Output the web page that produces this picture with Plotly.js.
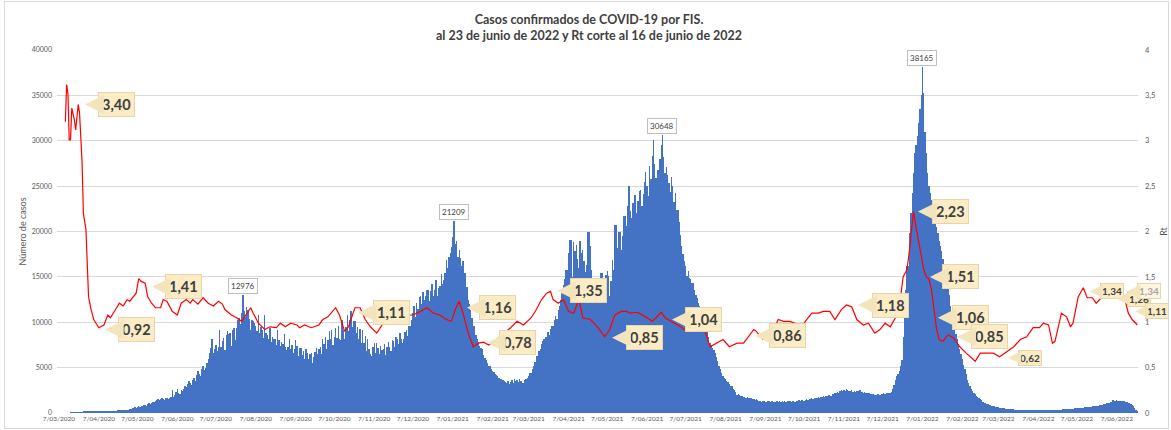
<!DOCTYPE html>
<html><head><meta charset="utf-8">
<script src="https://cdn.plot.ly/plotly-3.0.1.min.js"></script>
<style>html,body{margin:0;padding:0;background:#fff;}#wrap{position:relative;width:1171px;height:430px;}#frame{position:absolute;left:4px;top:1px;width:1163px;height:426px;border:1px solid #d9d9d9;pointer-events:none;}</style>
</head><body><div id="wrap"><div id="chart" style="width:1171px;height:430px;"></div><div id="frame"></div></div>
<script>
// Daily confirmed cases by FIS, first day 2020-03-06
const startDate = '2020-03-06';
const cases = [
3,5,8,10,14,18,20,
30,35,45,60,70,80,95,
110,120,140,130,150,160,170,
180,190,170,200,210,190,200,
210,220,200,230,220,210,230,
220,230,210,240,250,230,240,
250,230,260,270,250,280,290,
300,280,310,330,350,320,380,
420,470,520,600,660,580,640,
720,680,800,780,850,900,820,
950,1050,1000,1150,1250,1200,1350,
1450,1550,1400,1500,1600,1550,1450,
1600,1700,1500,1650,1750,2500,1800,
2000,2300,2600,2200,2100,2500,2400,
2700,3000,2900,3200,3500,3300,3100,
3600,3850,3500,4200,4600,4300,4100,
4800,5200,4700,5000,5500,5900,6600,
7200,8100,6600,7000,7500,6800,7300,
9150,7300,7900,8300,6900,8600,9000,
8700,8800,7400,9200,9400,8000,9400,
10200,10500,9800,11000,12976,11200,10600,
11700,11400,10400,9200,10300,10100,9900,
9600,9000,10800,8800,9500,9200,8300,
10800,8800,8600,8200,9400,7800,8400,
8200,8100,7500,9100,8000,7400,7800,
7600,8700,7300,6900,7300,8200,7100,
7500,6600,7000,8000,7400,6300,7200,
7200,6400,6800,5900,7000,6600,6000,
6500,6600,5500,6200,6700,7200,6500,
7000,7300,6500,8100,7600,8400,7000,
8000,9000,8200,9150,7500,8400,9400,
8300,9600,8100,8000,10300,9200,8200,
9500,10800,9000,10200,11200,9500,10100,
10100,8800,9500,8200,9300,7700,9200,
7700,8500,6800,8100,7000,6500,6240,
7300,7700,6600,7700,7200,6500,7400,
6900,7000,7600,6400,7300,7800,7300,
6800,8000,7900,7300,8400,8200,7600,
8800,8100,7700,8100,8900,9200,8500,
9600,9550,10300,11000,11800,10600,12100,
11500,12800,12850,12000,13300,12400,12900,
13500,13600,12300,13400,14200,12900,13500,
14700,12900,13800,14000,15300,14200,14700,
15400,16900,16000,17200,17600,18300,19400,
21209,18600,19000,17200,18000,17100,16200,
16800,15400,15400,13900,12500,12000,11300,
10500,9550,9550,8600,8200,7800,7400,
7200,7000,6400,6100,5800,5500,5150,
5150,4900,4600,4500,4300,4200,4050,
3900,3800,3700,3600,3500,3400,3300,
3500,3200,3400,3600,3300,3700,3500,
3650,3400,3800,3500,3300,3300,3600,
3700,3900,4100,4400,4400,4800,5200,
5600,6250,6250,6800,7000,7600,7900,
8100,8400,8400,8900,8600,9300,9550,
9550,10200,10700,10400,11400,11800,12400,
13400,14100,14800,15800,15800,17600,19100,
19100,15000,18800,17900,18500,17000,16000,
18900,17600,18000,16800,15500,16300,19950,
19900,18400,15800,14600,13800,12850,12500,
14200,14800,15450,15450,14200,13000,15200,
15700,15050,12900,14500,16900,15800,20750,
20750,18200,20000,20000,18000,19500,21700,
21700,20600,22800,24970,22300,21500,23100,
24000,24000,22000,23400,24500,24600,22800,
24100,25500,26600,25000,23900,27200,25800,
28300,30050,27400,25900,26800,26800,28000,
29500,30648,28200,26500,27100,26250,25400,
24300,26000,25000,23300,24200,22400,22400,
21000,19650,18400,17500,16800,16200,15050,
15600,14900,14800,14350,14350,13600,13000,
12700,12150,11800,11300,10900,10400,9950,
9500,9000,8400,7750,7500,7200,6900,
6650,6200,5700,5200,4800,4400,4050,
3900,3700,3500,3400,3200,3000,2940,
2700,2500,2300,2020,2100,2000,1900,
1850,1800,1750,1700,1750,1650,1650,
1600,1550,1500,1450,1500,1400,1350,
1300,1250,1280,1300,1200,1250,1300,
1280,1200,1300,1250,1180,1220,1300,
1250,1300,1200,1280,1250,1300,1220,
1280,1300,1280,1200,1350,1300,1250,
1300,1350,1400,1300,1380,1400,1350,
1450,1500,1450,1550,1500,1600,1550,
1650,1600,1700,1750,1650,1800,1750,
1840,1800,1900,1850,1950,2000,1900,
2100,2050,2200,2150,2300,2250,2400,
2500,2450,2570,2400,2600,2500,2450,
2400,2500,2350,2450,2300,2390,2400,
2500,2570,2300,2200,2350,2250,2200,
2150,2200,2100,2050,2100,2000,2020,
2050,2100,2000,2050,2100,2150,2100,
2150,2200,2250,2200,2300,2600,3100,
3680,4100,4300,4600,5200,5880,8400,
11400,13500,16200,16200,19800,22000,24250,
26500,28650,29500,30500,32000,33450,35000,
38165,35300,31000,28650,26500,25000,24200,
23500,22700,22000,21300,20500,19800,19000,
18400,17800,17000,16400,15800,15000,14350,
13000,11800,10300,9700,9200,8700,8100,
7600,7000,6500,5900,5300,4800,4300,
3680,3300,3000,2700,2450,2200,2050,
1900,1750,1600,1500,1400,1250,1100,
1050,1000,950,900,850,800,750,
720,680,650,620,600,550,540,
520,500,480,460,450,430,420,
400,390,380,370,360,350,340,
330,320,320,310,300,300,290,
300,290,280,300,290,280,300,
290,300,310,290,300,320,310,
300,320,330,310,340,330,350,
360,370,370,380,390,400,410,
420,430,450,440,470,480,500,
510,520,550,530,560,580,600,
620,640,660,650,690,700,720,
740,760,780,790,810,830,860,
900,950,1000,1050,1100,1150,1200,
1250,1400,1350,1300,1380,1330,1300,
1350,1300,1290,1280,1250,1200,1150,
1100,1000,900,800,600,330,200
];
// Rt (day offset from startDate, value)
const rtDay = [6,7,8,9,10,11,13,14,16,17,19,20,22,24,26,28,32,36,39,41,45,48,51,54,56,59,61,63,65,68,70,73,76,80,82,85,89,93,96,100,103,105,109,113,117,121,125,128,130,135,139,143,147,150,152,156,161,165,170,173,177,181,186,188,192,197,203,206,210,216,219,223,226,230,231,235,239,243,248,253,257,261,266,271,276,282,287,292,297,302,306,309,312,315,319,323,327,331,335,340,346,352,357,362,368,372,376,380,383,385,389,393,397,401,405,408,414,420,425,429,433,438,442,445,449,452,458,462,465,469,472,477,484,489,494,499,503,507,512,517,522,528,533,537,541,543,548,555,560,564,569,573,577,581,586,591,595,600,604,609,613,617,621,626,630,635,639,643,647,651,655,657,660,662,664,665,667,670,673,675,677,679,681,683,685,688,690,692,696,701,706,713,717,722,727,732,738,743,748,753,758,763,766,770,773,775,780,784,787,789,793,797,800,804,807,811,816,820,826,829,832,835,839];
const rtVal = [3.21,3.62,3.52,3.01,3.01,3.36,3.23,3.12,3.40,3.31,2.76,2.20,2.02,1.28,1.14,1.03,0.94,0.97,1.08,1.05,1.14,1.21,1.18,1.25,1.23,1.28,1.32,1.48,1.45,1.43,1.28,1.21,1.16,1.16,1.25,1.23,1.12,1.08,1.21,1.25,1.21,1.25,1.20,1.27,1.21,1.18,1.23,1.20,1.14,1.08,1.05,1.01,1.10,1.16,1.10,0.99,0.92,0.95,0.94,0.99,0.95,0.99,0.97,0.94,0.97,0.94,0.97,1.03,1.06,1.16,1.08,0.90,0.95,1.14,1.16,1.16,1.03,0.95,0.88,0.99,0.99,1.05,1.06,1.08,1.08,1.12,1.16,1.10,1.08,1.03,1.01,1.14,1.23,1.10,0.88,0.73,0.77,0.78,0.75,0.80,0.87,0.94,1.01,0.97,1.05,1.14,1.25,1.32,1.34,1.25,1.21,1.25,1.12,1.10,1.25,1.05,1.03,0.94,0.84,0.92,1.08,1.12,1.12,1.10,1.11,1.10,1.05,1.01,1.05,1.11,1.05,1.01,0.95,0.90,0.94,0.95,0.90,0.73,0.77,0.81,0.73,0.77,0.77,0.84,0.92,0.90,0.81,0.88,1.03,1.01,1.01,0.99,0.92,1.01,1.10,1.10,1.12,1.12,1.03,1.14,1.19,1.17,1.03,0.97,0.99,0.88,0.92,0.99,0.95,1.05,1.28,1.50,1.58,1.80,2.05,2.22,2.05,1.80,1.58,1.50,1.48,1.36,1.14,0.92,0.81,0.79,0.83,0.86,0.83,0.73,0.66,0.57,0.66,0.66,0.66,0.62,0.68,0.73,0.81,0.84,0.94,0.94,0.99,0.97,0.77,0.79,1.10,1.06,0.95,0.99,1.28,1.38,1.27,1.27,1.21,1.27,1.30,1.27,1.29,1.27,1.10,1.03,0.97];
const monthLabels = ['7/03/2020','7/04/2020','7/05/2020','7/06/2020','7/07/2020','7/08/2020','7/09/2020','7/10/2020','7/11/2020','7/12/2020','7/01/2021','7/02/2021','7/03/2021','7/04/2021','7/05/2021','7/06/2021','7/07/2021','7/08/2021','7/09/2021','7/10/2021','7/11/2021','7/12/2021','7/01/2022','7/02/2022','7/03/2022','7/04/2022','7/05/2022','7/06/2022'];
// Callouts on the Rt line: text, day offset, Rt value
const rtLabels = ['3,40','0,92','1,41','1,11','1,16','0,78','1,35','0,85','1,04','0,86','1,18','2,23','1,51','1,06','0,85','0,62','1,34','1,26','1,34','1,11'];
const rtLabelDay = [21.3,36.8,73.3,233.4,318,333.6,388,430.8,477.4,541.9,621.9,668.5,677.8,684,699,738.5,802,823,831,837.4];
const rtLabelVal = [3.40,0.92,1.39,1.105,1.16,0.774,1.347,0.83,1.03,0.85,1.19,2.22,1.50,1.05,0.84,0.61,1.34,1.26,1.34,1.12];
const lastRtLabel = '0,98';
const peakLabels = [12976,21209,30648,38165];

const T0 = Date.parse(startDate + 'T00:00:00Z');
function dayToDate(d){ return new Date(T0 + d*86400000).toISOString().slice(0,19).replace('T',' '); }
const caseDates = cases.map((v,i)=>dayToDate(i));
const rtDates = rtDay.map(d=>dayToDate(d));
const tickVals = monthLabels.map(s=>{const p=s.split('/'); return p[2]+'-'+p[1]+'-0'+p[0];});

const FONT = 'Lato, "Open Sans", sans-serif';
const annotations = [];
const bigOff = [31,31,32,33,31,31,32,32,31,32,33,33,31,33,32];
rtLabels.forEach((t,i)=>{
  const small = i>=15;
  const faded = i===18;
  annotations.push({
    x: dayToDate(rtLabelDay[i]), y: rtLabelVal[i], xref:'x', yref:'y2',
    text: t, showarrow:true, ax: small ? 22 : bigOff[i], ay: 0,
    arrowhead:2, arrowsize:0.75, arrowwidth: small?3.5:5, arrowcolor:'#f3e4bc', standoff:0,
    bgcolor: faded ? '#fdf5e0' : '#fbecc6', bordercolor:'#e6d6aa', borderwidth:1, borderpad: small?1:3,
    font:{family:FONT, size: small?10:14.5, color: faded?'#a6a6a6':'#404040', weight:'bold'}
  });
});
annotations.push({x: dayToDate(852.7), y: 0.97, xref:'x', yref:'y2', text: lastRtLabel, showarrow:false,
  bgcolor:'#fbecc6', bordercolor:'#fbecc6', borderwidth:1, borderpad:1,
  font:{family:FONT, size:12, color:'#404040', weight:'bold'}});
peakLabels.forEach(v=>{
  const i = cases.indexOf(v);
  annotations.push({x: caseDates[i], y: v, xref:'x', yref:'y', text: String(v), showarrow:false,
    yshift: 9, bgcolor:'#ffffff', bordercolor:'#bfbfbf', borderwidth:1, borderpad:2,
    font:{family:FONT, size:8, color:'#404040'}});
});

const data = [
  {type:'bar', x: caseDates, y: cases, marker:{color:'#4472c4', line:{width:0}}, hoverinfo:'skip', name:'Casos'},
  {type:'scatter', mode:'lines', x: rtDates, y: rtVal, yaxis:'y2', line:{color:'#ff0000', width:1.2}, hoverinfo:'skip', name:'Rt'}
];
const layout = {
  width:1171, height:430, margin:{l:57, r:33, t:50, b:17},
  paper_bgcolor:'#ffffff', plot_bgcolor:'#ffffff', showlegend:false, bargap:0,
  separators:',.',
  font:{family:FONT, color:'#595959'},
  title:{text:'Casos confirmados de COVID-19 por FIS.<br>al 23 de junio de 2022 y Rt corte al 16 de junio de 2022',
    x: 589/1171, xref:'container', xanchor:'center', y: 1-24/430, yref:'container', yanchor:'middle',
    font:{family:FONT, size:12.5, color:'#404040', weight:'bold'}},
  xaxis:{type:'date', range:[dayToDate(-0.5), dayToDate(cases.length-0.5)], tickvals: tickVals, ticktext: monthLabels,
    tickangle:0, tickfont:{size:6.5, color:'#595959'}, showgrid:false, zeroline:false, showline:false, ticks:'', automargin:false},
  yaxis:{range:[0,40000], dtick:5000, tickformat:'d', gridcolor:'#d9d9d9', gridwidth:1, zeroline:false, showline:false, ticks:'',
    tickfont:{size:7, color:'#595959'}, ticklabelstandoff:4, automargin:false,
    title:{text:'Número de casos', font:{size:9, color:'#595959'}, standoff:3}},
  yaxis2:{overlaying:'y', side:'right', range:[0,4], dtick:0.5, showgrid:false, zeroline:false, showline:false, ticks:'',
    tickfont:{size:7.5, color:'#595959'}, ticklabelstandoff:6, automargin:false,
    title:{text:'Rt', font:{size:9, color:'#595959'}, standoff:6}},
  annotations: annotations
};
Plotly.newPlot('chart', data, layout, {staticPlot:true, displayModeBar:false});
</script></body></html>
